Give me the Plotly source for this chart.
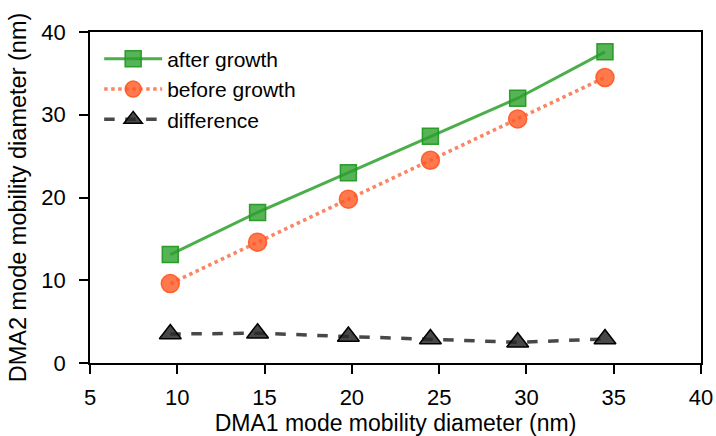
import plotly.graph_objects as go

# DMA1 mode mobility diameter (nm)
dma1 = [9.6, 14.6, 19.8, 24.5, 29.5, 34.5]
# DMA2 mode mobility diameter (nm)
after_growth = [13.1, 18.2, 23.0, 27.4, 32.0, 37.6]
before_growth = [9.6, 14.6, 19.8, 24.5, 29.5, 34.5]
difference = [3.5, 3.6, 3.2, 2.9, 2.5, 2.9]

x_ticks = [5, 10, 15, 20, 25, 30, 35, 40]
y_ticks = [0, 10, 20, 30, 40]

FONT = "Liberation Sans, Arial, sans-serif"

fig = go.Figure()

fig.add_trace(go.Scatter(
    x=dma1, y=after_growth, name="after growth", mode="lines+markers",
    line=dict(color="rgba(44,160,44,0.85)", width=3),
    marker=dict(symbol="square", size=16, color="rgba(44,160,44,0.8)",
                line=dict(color="rgba(30,150,30,0.9)", width=1.5)),
))
fig.add_trace(go.Scatter(
    x=dma1, y=before_growth, name="before growth", mode="lines+markers",
    line=dict(color="rgba(250,110,70,0.85)", width=3.5, dash="dot"),
    marker=dict(symbol="circle", size=18, color="rgba(255,87,34,0.8)",
                line=dict(color="rgba(255,87,34,0.9)", width=1.5)),
))
fig.add_trace(go.Scatter(
    x=dma1, y=difference, name="difference", mode="lines+markers",
    line=dict(color="rgba(40,40,40,0.85)", width=3.5, dash="dash"),
    marker=dict(symbol="triangle-up", size=19, color="rgba(40,40,40,0.85)",
                line=dict(color="black", width=1.5)),
))

axis_common = dict(
    showline=True, linecolor="black", linewidth=1.5, mirror=True,
    ticks="outside", ticklen=9, tickwidth=1.5, tickcolor="black",
    showgrid=False, zeroline=False, automargin=False,
    tickfont=dict(family=FONT, size=22, color="black"),
)

fig.update_layout(
    width=716, height=436,
    margin=dict(l=90, r=15, t=32, b=73),
    paper_bgcolor="white", plot_bgcolor="white",
    font=dict(family=FONT, color="black"),
    xaxis=dict(range=[5, 40], tickvals=x_ticks, ticklabelstandoff=5,
               title=dict(text="DMA1 mode mobility diameter (nm)",
                          font=dict(family=FONT, size=23), standoff=5),
               **axis_common),
    yaxis=dict(range=[0, 40], tickvals=y_ticks, ticklabelstandoff=9,
               title=dict(text="DMA2 mode mobility diameter (nm)",
                          font=dict(family=FONT, size=23.5), standoff=8),
               **axis_common),
    legend=dict(x=0.015, y=0.98, xanchor="left", yanchor="top",
                bgcolor="rgba(0,0,0,0)", font=dict(family=FONT, size=21, color="black"),
                itemwidth=58, tracegroupgap=0),
    showlegend=True,
)

fig.write_html("out.html")
